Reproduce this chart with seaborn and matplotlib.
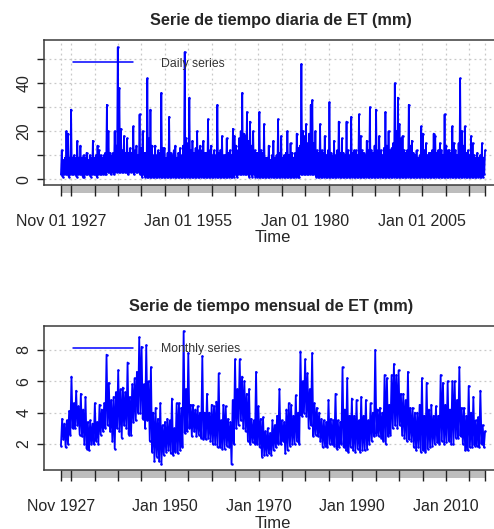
import matplotlib
matplotlib.use('Agg')
import matplotlib.pyplot as plt
import matplotlib.dates as mdates
import matplotlib.transforms as mtransforms
from matplotlib.patches import Rectangle
from matplotlib.lines import Line2D
import numpy as np
import pandas as pd
import seaborn as sns

# daily ET (mm): ~6 readings per year (low / high alternating)
daily_et = [
    2, 12, 1, 8, 2, 9,    2, 20, 2, 19, 1, 9,   2, 29, 2, 9, 2, 10,   2, 9, 1, 16, 2, 9,
    2, 14, 2, 9, 1, 10,   1, 9, 2, 11, 2, 8,    2, 10, 1, 9, 2, 16,   2, 9, 2, 10, 1, 14,
    2, 12, 2, 10, 2, 9,   2, 10, 2, 11, 2, 31,  3, 20, 3, 11, 2, 10,  3, 11, 2, 20, 3, 14,
    3, 55, 3, 38, 3, 21,  3, 12, 3, 18, 3, 11,  3, 17, 2, 11, 3, 13,  3, 11, 3, 22, 2, 12,
    3, 14, 3, 10, 3, 27,  2, 13, 1, 20, 2, 11,  1, 11, 1, 42, 1, 17,  1, 29, 1, 14, 1, 10,
    1, 14, 1, 10, 1, 12,  1, 11, 1, 36, 1, 13,  1, 13, 1, 9, 1, 11,   1, 26, 1, 11, 1, 10,
    1, 12, 1, 14, 1, 9,   1, 11, 1, 13, 1, 10,  1, 14, 1, 53, 1, 17,  1, 15, 1, 34, 1, 12,
    1, 16, 1, 11, 1, 13,  1, 20, 1, 12, 1, 14,  1, 12, 1, 16, 1, 11,  1, 11, 1, 25, 1, 12,
    1, 14, 1, 10, 1, 12,  1, 10, 1, 31, 1, 11,  1, 12, 1, 18, 1, 10,  1, 10, 1, 17, 1, 11,
    1, 12, 1, 10, 1, 21,  1, 18, 2, 14, 1, 12,  2, 17, 2, 20, 2, 36,  2, 19, 2, 18, 2, 28,
    2, 16, 1, 24, 2, 14,  1, 20, 2, 12, 1, 11,  1, 11, 1, 28, 1, 12,  1, 11, 1, 23, 1, 9,
    1, 9, 1, 14, 1, 8,    1, 10, 1, 16, 1, 9,   1, 10, 1, 25, 1, 11,  1, 18, 1, 9, 1, 10,
    1, 11, 1, 20, 1, 10,  1, 15, 1, 11, 1, 9,   1, 11, 1, 19, 1, 13,  1, 14, 2, 48, 2, 20,
    2, 18, 2, 23, 2, 15,  2, 19, 2, 31, 2, 33,  2, 15, 2, 20, 1, 12,  1, 11, 1, 23, 1, 12,
    1, 11, 1, 18, 1, 10,  1, 12, 1, 32, 1, 11,  1, 10, 1, 16, 1, 10,  1, 12, 1, 24, 1, 11,
    1, 17, 1, 11, 1, 10,  1, 24, 1, 12, 1, 10,  1, 26, 1, 11, 1, 12,  1, 12, 1, 10, 1, 27,
    1, 18, 1, 12, 1, 11,  1, 10, 1, 16, 1, 12,  1, 30, 1, 12, 1, 11,  1, 14, 1, 29, 1, 12,
    1, 18, 1, 12, 1, 10,  1, 13, 1, 28, 1, 14,  1, 20, 1, 12, 1, 13,  1, 15, 1, 40, 1, 20,
    1, 34, 1, 23, 1, 17,  1, 18, 1, 12, 1, 11,  1, 12, 1, 31, 1, 14,  1, 16, 1, 11, 1, 10,
    1, 12, 1, 9, 1, 10,   1, 22, 1, 19, 1, 12,  1, 15, 1, 10, 1, 11,  1, 11, 1, 12, 1, 19,
    1, 18, 1, 11, 1, 12,  1, 15, 1, 12, 1, 10,  1, 27, 1, 14, 1, 12,  1, 12, 1, 11, 1, 22,
    1, 15, 1, 12, 1, 10,  1, 15, 1, 42, 1, 20,  1, 14, 1, 22, 1, 11,  1, 12, 1, 10, 1, 18,
    1, 15, 1, 10, 1, 9,   1, 11, 1, 9, 1, 10,   1, 15, 1, 9, 2, 12,
]

# monthly ET (mm): ~4 readings per year
monthly_et = [
    1.9, 3.6, 2.3, 3.3,  1.8, 3.5, 2.0, 4.1,  2.6, 6.3, 3.0, 4.6,  3.0, 5.4, 3.2, 4.4,
    2.6, 5.2, 2.5, 4.2,  2.0, 5.0, 1.7, 3.4,  1.6, 3.5, 2.0, 3.3,  2.0, 4.6, 2.2, 3.4,
    2.0, 4.5, 2.6, 4.2,  2.8, 4.6, 3.0, 7.7,  3.2, 5.9, 2.8, 4.8,  2.2, 5.0, 1.7, 5.3,
    3.0, 6.7, 2.8, 5.5,  2.4, 5.6, 3.2, 5.3,  3.0, 7.2, 2.6, 5.0,  2.6, 5.8, 3.4, 6.2,
    3.5, 6.6, 4.0, 8.8,  4.0, 8.2, 3.6, 5.8,  3.0, 8.3, 3.5, 6.0,  2.2, 6.9, 1.5, 4.0,
    0.9, 4.3, 1.2, 3.6,  0.9, 4.6, 0.7, 3.2,  1.3, 3.4, 1.5, 3.6,  1.6, 3.5, 1.4, 4.9,
    1.3, 3.0, 1.5, 4.6,  1.4, 4.6, 1.6, 4.3,  1.8, 9.2, 2.7, 5.5,  2.8, 7.8, 3.0, 4.5,
    2.5, 4.5, 2.8, 4.2,  2.5, 4.4, 2.6, 4.0,  2.4, 7.6, 2.3, 4.0,  2.3, 5.2, 2.4, 4.0,
    2.2, 4.5, 2.0, 4.4,  2.0, 4.7, 1.8, 6.5,  1.8, 3.5, 1.7, 4.5,  1.7, 4.4, 1.9, 3.6,
    1.8, 3.4, 0.7, 4.8,  2.0, 7.4, 3.0, 5.5,  3.2, 7.4, 3.5, 6.3,  3.0, 6.0, 2.8, 5.2,
    2.2, 5.5, 2.0, 3.6,  2.1, 3.5, 2.0, 6.6,  2.0, 4.4, 1.8, 3.6,  1.2, 3.7, 1.3, 2.8,
    1.3, 3.0, 1.4, 2.7,  1.3, 3.5, 1.6, 3.2,  1.8, 3.8, 2.0, 5.5,  2.0, 3.5, 2.2, 3.4,
    1.4, 4.2, 1.6, 4.6,  1.9, 4.5, 2.0, 3.8,  2.0, 5.1, 2.2, 4.0,  2.0, 7.9, 3.8, 6.0,
    4.0, 7.4, 3.8, 6.5,  3.0, 5.5, 3.2, 7.8,  2.5, 4.6, 2.6, 4.3,  2.5, 4.0, 2.2, 3.6,
    1.8, 3.5, 1.9, 3.4,  1.8, 4.8, 2.0, 3.6,  2.0, 3.5, 1.9, 5.2,  1.7, 3.5, 1.8, 3.4,
    2.0, 6.9, 1.8, 4.2,  1.6, 6.2, 1.5, 3.8,  1.8, 4.9, 1.6, 3.8,  1.5, 4.8, 1.7, 3.5,
    1.5, 5.0, 1.6, 3.8,  1.6, 4.8, 1.7, 3.5,  2.0, 4.6, 2.2, 4.0,  2.5, 8.0, 2.6, 4.2,
    2.5, 4.3, 2.4, 4.0,  2.2, 6.4, 2.0, 6.2,  2.5, 4.5, 2.6, 6.4,  3.0, 7.1, 3.2, 6.4,
    3.0, 6.7, 3.2, 5.2,  2.6, 5.2, 2.4, 4.8,  2.2, 6.6, 2.3, 4.3,  2.2, 4.3, 1.8, 4.0,
    1.6, 4.0, 1.8, 4.5,  1.5, 6.2, 1.6, 3.8,  1.5, 5.9, 1.7, 4.2,  1.8, 4.5, 1.9, 3.8,
    2.0, 4.4, 2.1, 3.8,  2.0, 6.4, 2.2, 5.9,  2.0, 4.5, 2.1, 6.0,  2.2, 4.2, 2.0, 6.0,
    2.0, 6.0, 2.4, 4.8,  2.4, 6.9, 2.5, 4.3,  2.0, 4.3, 1.6, 3.8,  1.6, 5.7, 1.8, 4.0,
    1.8, 5.0, 1.9, 3.5,  1.9, 3.7, 1.8, 5.4,  2.0, 3.2, 1.8, 2.8,
]

series_start = '1927-11-01'
daily_end = '2018-05-31'
monthly_end = '2018-05-01'

daily_ticks = [0, 10, 20, 30, 40, 50]
daily_ticklabels = ['0', '', '20', '', '40', '']
monthly_ticks = [2, 4, 6, 8]
monthly_ticklabels = ['2', '4', '6', '8']

tick_years = list(range(1930, 2016, 5))
daily_xlabels = {1927: 'Nov 01 1927', 1955: 'Jan 01 1955', 1980: 'Jan 01 1980', 2005: 'Jan 01 2005'}
monthly_xlabels = {1927: 'Nov 1927', 1950: 'Jan 1950', 1970: 'Jan 1970', 1990: 'Jan 1990', 2010: 'Jan 2010'}

titles = ['Serie de tiempo diaria de ET (mm)', 'Serie de tiempo mensual de ET (mm)']
legend_names = ['Daily series', 'Monthly series']

W, H = 494, 529
BLUE = '#0000ff'
GRID = '#c8c8c8'
FRAME = '#3a3a3a'

sns.set_style('white')
plt.rcParams['font.family'] = ['Liberation Sans', 'DejaVu Sans']

fig = plt.figure(figsize=(W / 100, H / 100), dpi=100)


def fig_box(left, top, right, bottom):
    return [left / W, 1 - bottom / H, (right - left) / W, (bottom - top) / H]


def draw_panel(ax, values, end, yticks, yticklabels, ylim, xlabels, legend_name, vgrid, lw, leg_y):
    dates = pd.date_range(series_start, end, periods=len(values))
    df = pd.DataFrame({'date': dates, 'et': values})
    sns.lineplot(data=df, x='date', y='et', ax=ax, color=BLUE, lw=lw,
                 marker='o', markersize=1.8, markeredgewidth=0, estimator=None, legend=False)

    start, stop = pd.Timestamp(series_start), pd.Timestamp(end)
    span = stop - start
    ax.set_xlim(start - span * 0.04, stop + span * 0.04)
    ax.set_ylim(*ylim)

    tick_dates = [start] + [pd.Timestamp(f'{y}-01-01') for y in tick_years] + [stop]
    labels = []
    for d in tick_dates:
        key = 1927 if d == start else (d.year if d.month == 1 and d.day == 1 and d != stop else None)
        labels.append(xlabels.get(key, ''))
    ax.set_xticks(tick_dates)
    ax.set_xticklabels(labels)
    ax.tick_params(axis='x', direction='out', length=8, width=1.0, color='#222222',
                   pad=13, labelsize=11.5, bottom=True)

    ax.set_yticks(yticks)
    ax.set_yticklabels(yticklabels, rotation=90, va='center')
    ax.tick_params(axis='y', direction='out', length=5, width=1.0, color='#222222',
                   pad=4, labelsize=11.5, left=True)

    # grey band under the time axis
    trans = mtransforms.blended_transform_factory(ax.transData, ax.transAxes)
    x0, x1 = mdates.date2num(start), mdates.date2num(stop)
    ax.add_patch(Rectangle((x0, -0.058), x1 - x0, 0.058, transform=trans,
                           facecolor='#bdbdbd', edgecolor='none', clip_on=False, zorder=0))

    for y in yticks:
        ax.axhline(y, color=GRID, lw=0.9, ls=(0, (1.5, 2.5)), zorder=0)
    if vgrid:
        for d in tick_dates:
            ax.axvline(d, color=GRID, lw=0.9, ls=(0, (1.5, 2.5)), zorder=0)

    for s in ax.spines.values():
        s.set_color(FRAME)
        s.set_linewidth(1.1)

    handle = Line2D([], [], color=BLUE, lw=1.1)
    ax.legend([handle], [legend_name], loc='upper left', bbox_to_anchor=(0.063, leg_y),
              frameon=False, fontsize=8.8, handlelength=4.9, handletextpad=2.3,
              borderpad=0, borderaxespad=0, labelcolor='#333333')
    ax.set_xlabel('')
    ax.set_ylabel('')


ax1 = fig.add_axes(fig_box(44, 40, 502, 185))
draw_panel(ax1, daily_et, daily_end, daily_ticks, daily_ticklabels, (-2.4, 58),
           daily_xlabels, legend_names[0], True, 1.25, 0.878)

ax2 = fig.add_axes(fig_box(44, 326, 502, 470))
draw_panel(ax2, monthly_et, monthly_end, monthly_ticks, monthly_ticklabels, (0.34, 9.53),
           monthly_xlabels, legend_names[1], False, 1.3, 0.882)

fig.text(281 / W, 1 - 20.5 / H, titles[0], ha='center', va='center', fontsize=11.7, fontweight='bold')
fig.text(271 / W, 1 - 306.5 / H, titles[1], ha='center', va='center', fontsize=11.7, fontweight='bold')
fig.text(273 / W, 1 - 237.5 / H, 'Time', ha='center', va='center', fontsize=12)
fig.text(273 / W, 1 - 523 / H, 'Time', ha='center', va='center', fontsize=12)

fig.savefig('out.png', dpi=100)
